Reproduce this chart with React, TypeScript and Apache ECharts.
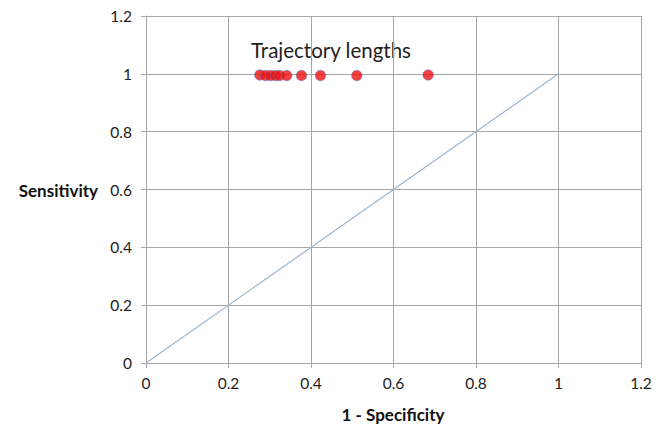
import React, { useEffect, useRef } from "react";
import * as echarts from "echarts";

const pointX = [0.276, 0.29, 0.302, 0.314, 0.324, 0.341, 0.377, 0.423, 0.511, 0.684];
const pointY = [0.996, 0.994, 0.994, 0.994, 0.994, 0.994, 0.994, 0.994, 0.994, 0.996];
const diagonal = [[0, 0], [1, 1]];
const xName = "1 - Specificity";
const yName = "Sensitivity";
const annotation = "Trajectory lengths";

export default function App() {
  const ref = useRef<HTMLDivElement>(null);
  useEffect(() => {
    if (!ref.current) return;
    const chart = echarts.init(ref.current, null, { renderer: "svg" });
    const font = "Lato, 'Open Sans', sans-serif";
    const gridColor = "#a6a6a6";
    chart.setOption({
      animation: false,
      backgroundColor: "#ffffff",
      grid: { left: 146, right: 25, top: 16, bottom: 62, containLabel: false },
      xAxis: {
        type: "value",
        min: 0,
        max: 1.2,
        interval: 0.2,
        axisLine: { show: true, lineStyle: { color: gridColor, width: 1 } },
        axisTick: { show: true, length: 5, lineStyle: { color: gridColor } },
        splitLine: { show: true, lineStyle: { color: gridColor, width: 1 } },
        axisLabel: { color: "#222", fontSize: 15.5, fontFamily: font, margin: 12 },
      },
      yAxis: {
        type: "value",
        min: 0,
        max: 1.2,
        interval: 0.2,
        axisLine: { show: true, lineStyle: { color: gridColor, width: 1 } },
        axisTick: { show: true, length: 5, lineStyle: { color: gridColor } },
        splitLine: { show: true, lineStyle: { color: gridColor, width: 1 } },
        axisLabel: { color: "#222", fontSize: 15.5, fontFamily: font, margin: 14 },
      },
      graphic: [
        {
          type: "text",
          x: 251,
          y: 50,
          style: {
            text: annotation,
            fontSize: 20.5,
            fontFamily: font,
            fill: "#222",
            align: "left",
            verticalAlign: "middle",
          },
        },
        {
          type: "text",
          x: 98,
          y: 190,
          style: {
            text: yName,
            fontSize: 17,
            fontWeight: "bold",
            fontFamily: font,
            fill: "#111",
            align: "right",
            verticalAlign: "middle",
          },
        },
        {
          type: "text",
          x: 393,
          y: 414,
          style: {
            text: xName,
            fontSize: 17,
            fontWeight: "bold",
            fontFamily: font,
            fill: "#111",
            align: "center",
            verticalAlign: "middle",
          },
        },
      ],
      series: [
        {
          type: "line",
          data: diagonal,
          symbol: "none",
          lineStyle: { color: "#9db3cf", width: 1.2 },
          silent: true,
        },
        {
          type: "scatter",
          data: pointX.map((x, i) => [x, pointY[i]]),
          symbol: "circle",
          symbolSize: 10.5,
          itemStyle: { color: "#ee1111", borderColor: "rgba(79,110,190,0.7)", borderWidth: 0.8 },
        },
      ],
    });
    return () => chart.dispose();
  }, []);
  return <div ref={ref} style={{ width: 666, height: 425, position: "absolute", left: 0, top: 0 }} />;
}
